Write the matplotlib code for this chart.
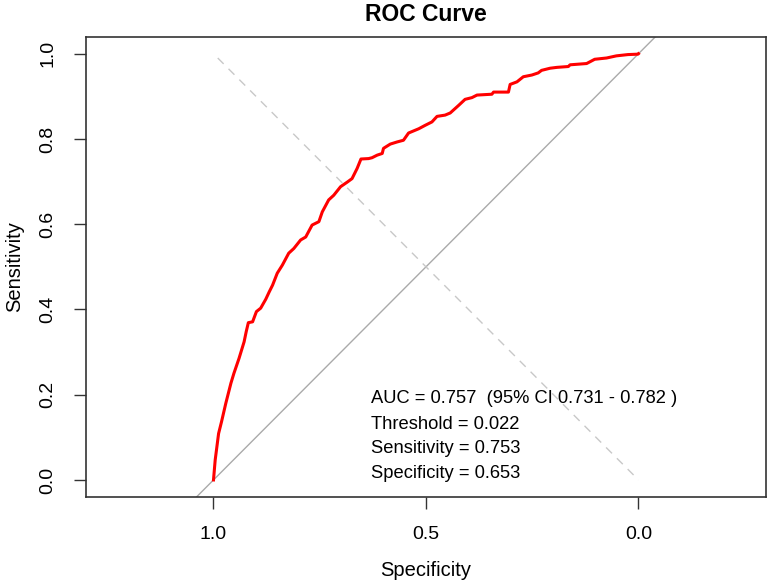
import matplotlib
matplotlib.use("Agg")
import matplotlib.pyplot as plt
import numpy as np

plt.rcParams['font.family'] = ['Liberation Sans', 'DejaVu Sans']

# ROC curve points (specificity, sensitivity)
spec = [1.0, 0.996, 0.988, 0.981, 0.971, 0.959, 0.952, 0.94, 0.928, 0.923, 0.918,
        0.908, 0.899, 0.889, 0.877, 0.869, 0.861, 0.85, 0.838, 0.823, 0.811,
        0.795, 0.783, 0.768, 0.752, 0.744, 0.729, 0.717, 0.701, 0.685, 0.674,
        0.662, 0.653, 0.635, 0.627, 0.615, 0.603, 0.6, 0.584, 0.568, 0.553,
        0.541, 0.517, 0.502, 0.486, 0.474, 0.455, 0.443, 0.423, 0.408, 0.392,
        0.38, 0.345, 0.341, 0.306, 0.302, 0.286, 0.271, 0.251, 0.236, 0.228,
        0.208, 0.192, 0.165, 0.161, 0.122, 0.103, 0.075, 0.052, 0.025, 0.001, 0.0]
sens = [0.0, 0.047, 0.109, 0.137, 0.18, 0.227, 0.25, 0.285, 0.324, 0.348, 0.369,
        0.371, 0.395, 0.403, 0.424, 0.441, 0.457, 0.485, 0.504, 0.532, 0.543,
        0.563, 0.570, 0.598, 0.606, 0.629, 0.657, 0.668, 0.688, 0.699, 0.707,
        0.731, 0.753, 0.754, 0.756, 0.762, 0.766, 0.778, 0.788, 0.793, 0.797,
        0.814, 0.824, 0.832, 0.840, 0.853, 0.856, 0.861, 0.879, 0.893, 0.897,
        0.903, 0.905, 0.910, 0.910, 0.928, 0.934, 0.946, 0.950, 0.955, 0.961,
        0.966, 0.968, 0.970, 0.974, 0.977, 0.987, 0.990, 0.995, 0.998, 0.999, 1.0]

auc_lines = ["AUC = 0.757  (95% CI 0.731 - 0.782 )",
             "Threshold = 0.022",
             "Sensitivity = 0.753",
             "Specificity = 0.653"]
text_y = [0.19, 0.131, 0.073, 0.016]

fig = plt.figure(figsize=(7.72, 5.86), dpi=100)
ax = fig.add_axes([0.1114, 0.1519, 0.9922 - 0.1114, 0.9374 - 0.1519])

# chance line (like abline), clipped to the box
ax.axline((1, 0), (0, 1), color='#aaaaaa', lw=1.0)
# cutoff diagonal
ax.plot([0.99, 0.0], [0.99, 0.0], color='#c8c8c8', lw=1.0, ls=(0, (6, 5)))
ax.plot(spec, sens, color='red', lw=2.2)

for t, y in zip(auc_lines, text_y):
    ax.text(0.629, y, t, fontsize=13.2, va='center', ha='left')

ax.set_xlim(1.3, -0.3)
ax.set_ylim(-0.04, 1.04)
ax.set_xticks([1.0, 0.5, 0.0])
ax.set_xticklabels(["1.0", "0.5", "0.0"])
ax.set_yticks([0.0, 0.2, 0.4, 0.6, 0.8, 1.0])
ax.set_yticklabels(["0.0", "0.2", "0.4", "0.6", "0.8", "1.0"], rotation=90, va='center')
ax.tick_params(direction='out', length=8.6, width=1, labelsize=14, pad=12.5, color='#333333')
for s in ax.spines.values():
    s.set_color('#333333')
    s.set_linewidth(1.2)

ax.set_xlabel("Specificity", fontsize=14.5, labelpad=13)
ax.set_ylabel("Sensitivity", fontsize=14.5, labelpad=11)
ax.set_title("ROC Curve", fontsize=16.5, fontweight='bold', pad=11)

fig.savefig("out.png", dpi=100)
